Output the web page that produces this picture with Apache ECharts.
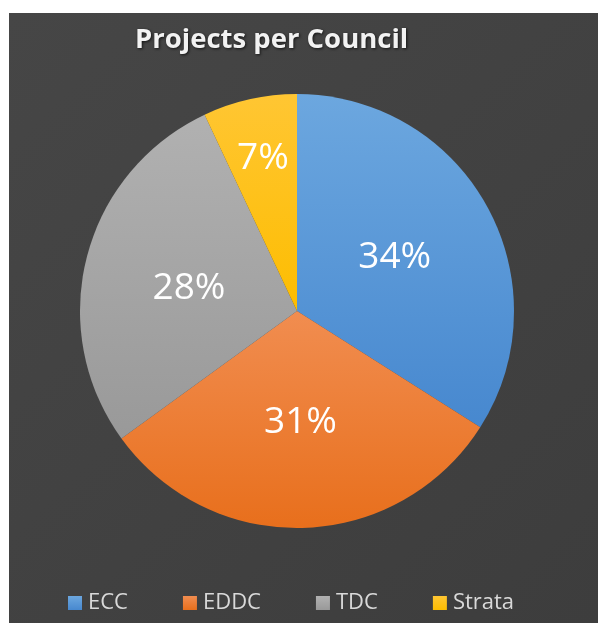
<!DOCTYPE html>
<html>
<head>
<meta charset="utf-8">
<script src="https://cdn.jsdelivr.net/npm/echarts@6/dist/echarts.min.js"></script>
<style>
  html, body { margin: 0; padding: 0; background: #ffffff; }
  #chart { width: 598px; height: 623px; }
</style>
</head>
<body>
<div id="chart"></div>
<script>
// Share of projects handled by each council
const councils = ['ECC', 'EDDC', 'TDC', 'Strata'];
const shares = [34, 31, 28, 7];

// Slice fills: lighter at the top, deeper at the bottom
const sliceColors = [
  ['#6ca7df', '#4788cf'],
  ['#f18d50', '#e86f1c'],
  ['#b1b1b1', '#999999'],
  ['#ffc633', '#fdbd00']
];

const CX = 297, CY = 311, R = 217;

const chart = echarts.init(document.getElementById('chart'), null, { renderer: 'canvas' });

chart.setOption({
  backgroundColor: '#ffffff',
  animation: false,
  graphic: [{
    type: 'rect',
    z: -10,
    silent: true,
    shape: { x: 9, y: 13, width: 589, height: 610 },
    style: {
      fill: new echarts.graphic.LinearGradient(0, 0, 1, 1, [
        { offset: 0, color: '#464646' },
        { offset: 1, color: '#3d3d3d' }
      ])
    }
  }],
  title: {
    text: 'Projects per Council',
    left: 130,
    top: 21,
    textStyle: {
      fontFamily: 'Open Sans',
      fontWeight: 'bold',
      fontSize: 27.5,
      color: '#f2f2f2',
      textShadowColor: 'rgba(0,0,0,0.7)',
      textShadowBlur: 3,
      textShadowOffsetX: 1,
      textShadowOffsetY: 1
    }
  },
  legend: {
    bottom: 4,
    left: 63,
    itemWidth: 14,
    itemHeight: 14,
    itemGap: 55,
    icon: 'rect',
    textStyle: {
      fontFamily: 'Open Sans',
      fontSize: 22,
      color: '#d9d9d9',
      padding: [0, 0, 0, 1]
    },
    data: councils
  },
  series: [{
    type: 'pie',
    center: [CX, CY],
    radius: [0, R],
    startAngle: 90,
    clockwise: true,
    avoidLabelOverlap: false,
    label: {
      show: true,
      position: 'inside',
      formatter: '{d}%',
      fontFamily: 'Open Sans',
      fontSize: 37,
      color: '#ffffff'
    },
    labelLine: { show: false },
    labelLayout: function (p) {
      // push the narrow slice's label further out toward the rim
      if (p.dataIndex === 3) {
        const r = p.labelRect;
        const lx = r.x + r.width / 2 - CX;
        const ly = r.y + r.height / 2 - CY;
        const k = 0.72 * R / Math.sqrt(lx * lx + ly * ly);
        return { dx: lx * (k - 1), dy: ly * (k - 1) };
      }
      if (p.dataIndex === 2) {
        return { dy: 5 };
      }
      return {};
    },
    emphasis: { disabled: true },
    data: councils.map((name, i) => ({
      name: name,
      value: shares[i],
      itemStyle: {
        color: new echarts.graphic.LinearGradient(0, 0, 0, 1, [
          { offset: 0, color: sliceColors[i][0] },
          { offset: 1, color: sliceColors[i][1] }
        ])
      }
    }))
  }]
});
</script>
</body>
</html>
